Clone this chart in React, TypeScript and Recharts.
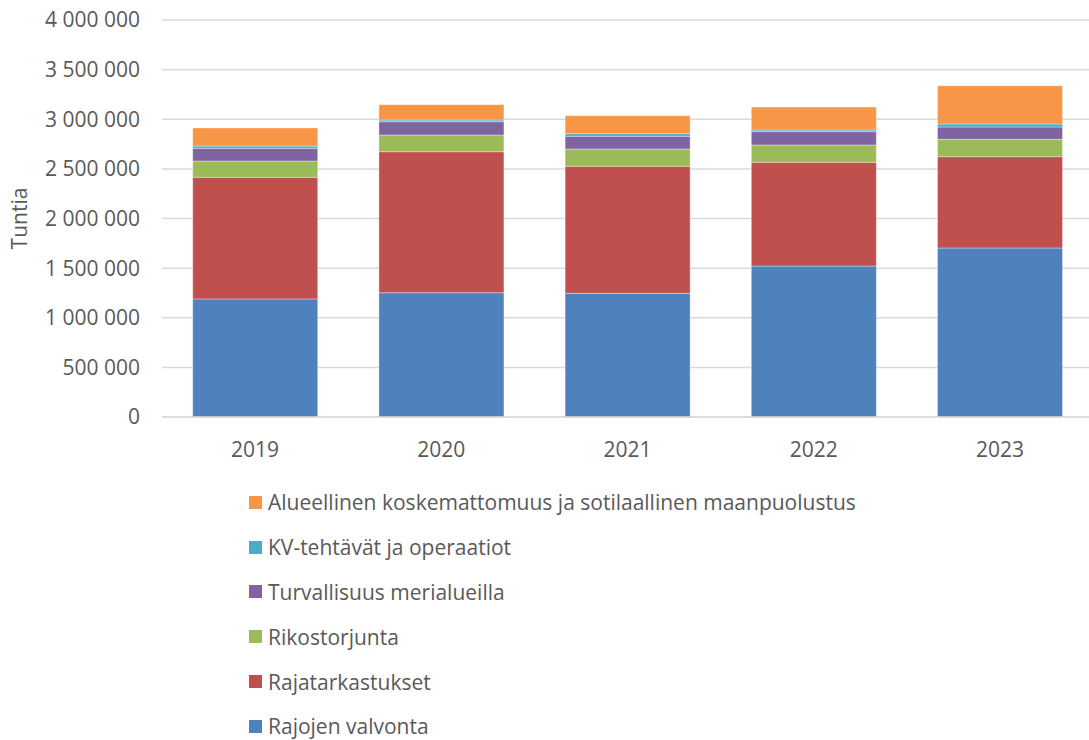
import { BarChart, Bar, XAxis, YAxis, CartesianGrid } from 'recharts';

const years = ['2019', '2020', '2021', '2022', '2023'];

const rajojenValvonta = [1190000, 1252000, 1246000, 1521000, 1703000];
const rajatarkastukset = [1225000, 1421000, 1280000, 1045000, 920000];
const rikostorjunta = [164000, 168000, 174000, 175000, 175000];
const turvallisuusMerialueilla = [128000, 134000, 128000, 134000, 124000];
const kvTehtavat = [23000, 17000, 27000, 17000, 30000];
const alueellinenKoskemattomuus = [182000, 155000, 181000, 231000, 386000];

const yTicks = [0, 500000, 1000000, 1500000, 2000000, 2500000, 3000000, 3500000, 4000000];

const series = [
  { key: 'rajojen', name: 'Rajojen valvonta', values: rajojenValvonta, color: '#4F81BD' },
  { key: 'rajatark', name: 'Rajatarkastukset', values: rajatarkastukset, color: '#C0504D' },
  { key: 'rikos', name: 'Rikostorjunta', values: rikostorjunta, color: '#9BBB59' },
  { key: 'meri', name: 'Turvallisuus merialueilla', values: turvallisuusMerialueilla, color: '#8064A2' },
  { key: 'kv', name: 'KV-tehtävät ja operaatiot', values: kvTehtavat, color: '#4BACC6' },
  { key: 'alue', name: 'Alueellinen koskemattomuus ja sotilaallinen maanpuolustus', values: alueellinenKoskemattomuus, color: '#F79646' },
];

const data = years.map((year, i) => {
  const row: Record<string, string | number> = { year };
  series.forEach((s) => {
    row[s.key] = s.values[i];
  });
  return row;
});

const FONT = '"Open Sans", sans-serif';
const TEXT = '#595959';
const FS = 21;

// thousands separated by spaces, as in the original
const fmt = (v: number) => String(v).replace(/\B(?=(\d{3})+(?!\d))/g, ' ');

function LegendList() {
  const items = [...series].reverse();
  return (
    <div style={{ position: 'absolute', left: 249, top: 480, fontFamily: FONT, fontSize: FS, color: TEXT }}>
      {items.map((s) => (
        <div key={s.key} style={{ display: 'flex', alignItems: 'center', height: 44.8 }}>
          <span style={{ width: 13, height: 13, background: s.color, marginRight: 6, display: 'inline-block' }} />
          <span>{s.name}</span>
        </div>
      ))}
    </div>
  );
}

export default function App() {
  return (
    <div style={{ position: 'absolute', left: 0, top: 0, width: 1089, height: 740, overflow: 'hidden', background: '#fff' }}>
      <BarChart
        width={1100}
        height={740}
        data={data}
        margin={{ top: 20, right: 7, bottom: 283, left: 0 }}
        barCategoryGap="16.5%"
      >
        <CartesianGrid vertical={false} stroke="#d9d9d9" strokeWidth={1.5} />
        <XAxis
          dataKey="year"
          height={40}
          axisLine={{ stroke: '#d9d9d9', strokeWidth: 1.5 }}
          tickLine={false}
          tickMargin={19}
          tick={{ fill: TEXT, fontSize: FS, fontFamily: FONT }}
        />
        <YAxis
          width={162}
          domain={[0, 4000000]}
          ticks={yTicks}
          interval={0}
          axisLine={false}
          tickLine={false}
          tickSize={0}
          tickMargin={22}
          tickFormatter={fmt}
          tick={{ fill: TEXT, fontSize: FS, fontFamily: FONT }}
          label={{ value: 'Tuntia', angle: -90, position: 'insideLeft', offset: 20, textAnchor: 'middle', fill: TEXT, fontSize: FS, fontFamily: FONT }}
        />
        {series.map((s) => (
          <Bar
            key={s.key}
            dataKey={s.key}
            name={s.name}
            stackId="a"
            fill={s.color}
            stroke="#ffffff"
            strokeOpacity={0.35}
            strokeWidth={1}
            isAnimationActive={false}
          />
        ))}
      </BarChart>
      <LegendList />
    </div>
  );
}
